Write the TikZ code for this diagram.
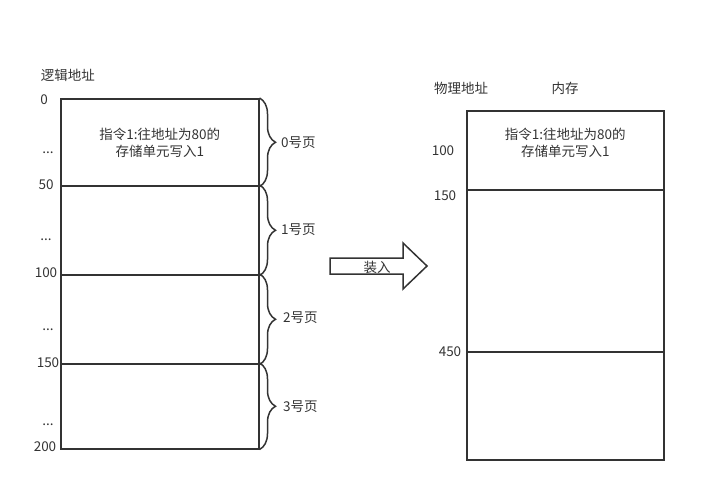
\documentclass[tikz,border=0pt]{standalone}
\usepackage{fontspec}
\setmainfont{Noto Sans CJK SC}
\usetikzlibrary{decorations.pathreplacing}
\definecolor{ln}{HTML}{333333}
\begin{document}
\begin{tikzpicture}[x=1pt,y=-1pt,
  cell/.style={draw=ln, line width=1.5pt, anchor=north west, inner sep=0pt},
  lbl/.style={font=\fontsize{13.5}{16}\selectfont, text=ln, inner sep=0pt},
  brc/.style={draw=ln, line width=1.5pt, decorate, decoration={brace, amplitude=16pt}},
  txt/.style={lbl, align=center, font=\fontsize{13.5}{17}\selectfont}]
\useasboundingbox (0,0) rectangle (724,501);
% left cells
\node[cell, minimum width=198, minimum height=87] (L0) at (60,98) {};
\node[cell, minimum width=198, minimum height=89] (L1) at (60,185) {};
\node[cell, minimum width=198, minimum height=89] (L2) at (60,274) {};
\node[cell, minimum width=198, minimum height=85] (L3) at (60,363) {};
\node[txt] (t1) at (L0.center) [yshift=-1pt] {指令1:往地址为80的\\存储单元写入1};
% braces
\draw[brc] (L0.north east) -- (L0.south east);
\draw[brc] (L1.north east) -- (L1.south east);
\draw[brc] (L2.north east) -- (L2.south east);
\draw[brc] (L3.north east) -- (L3.south east);
\node[lbl, anchor=west] (p0) at (281,143) {0号页};
\node[lbl, anchor=west] (p1) at (281,230) {1号页};
\node[lbl, anchor=west] (p2) at (283,318) {2号页};
\node[lbl, anchor=west] (p3) at (283,407) {3号页};
% left labels
\node[lbl] (la) at (68,75) {逻辑地址};
\node[lbl] (a0) at (44,100) {0};
\node[lbl] (d0) at (48,153) {...};
\node[lbl] (a50) at (46,185) {50};
\node[lbl] (d1) at (46,240) {...};
\node[lbl] (a100) at (46,273) {100};
\node[lbl] (d2) at (48,330) {...};
\node[lbl] (a150) at (48,363) {150};
\node[lbl] (d3) at (48,425) {...};
\node[lbl] (a200) at (45,447) {200};
% arrow
\draw[draw=ln, line width=1.5pt, fill=white] (330,258) -- (403,258) -- (403,243) -- (427,266) -- (403,289) -- (403,274) -- (330,274) -- cycle;
\node[lbl] (zr) at (377,267) {装入};
% right cells
\node[cell, minimum width=197, minimum height=79] (R0) at (466,110) {};
\node[cell, minimum width=197, minimum height=162] (R1) at (466,189) {};
\node[cell, minimum width=197, minimum height=108] (R2) at (466,351) {};
\node[txt] (t2) at (R0.center) [yshift=7pt] {指令1:往地址为80的\\存储单元写入1};
\node[lbl] (lb) at (461,88) {物理地址};
\node[lbl] (nc) at (565,88) {内存};
\node[lbl] (r100) at (443,151) {100};
\node[lbl] (r150) at (445,196) {150};
\node[lbl] (r450) at (450,352) {450};
\end{tikzpicture}
\end{document}
